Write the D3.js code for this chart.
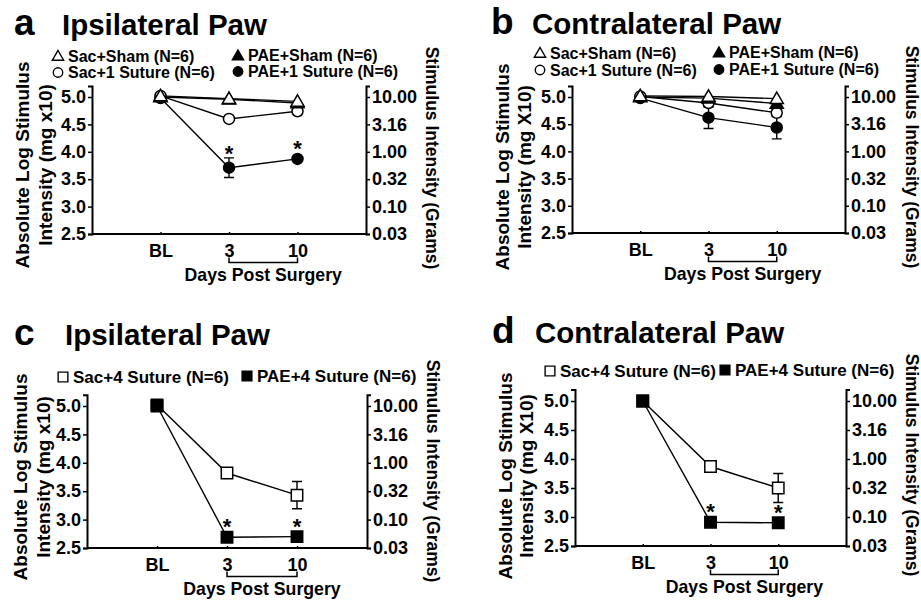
<!DOCTYPE html>
<html>
<head>
<meta charset="utf-8">
<script src="https://cdn.jsdelivr.net/npm/d3@7"></script>
<style>
  body { margin: 0; background: #fff; }
  svg { font-family: "Liberation Sans", Arial, sans-serif; font-weight: bold; }
</style>
</head>
<body>
<div id="chart"></div>
<script>
// categories and tick labels
const days = ['BL', '3', '10'];
const leftTicks = [2.5, 3.0, 3.5, 4.0, 4.5, 5.0];
const rightTickLabels = ['0.03', '0.10', '0.32', '1.00', '3.16', '10.00'];

// panel a - ipsilateral, sham / 1 suture
const aSacSham = [5.02, 4.97, 4.92];
const aPaeSham = [5.00, 4.96, 4.89];
const aSac1 = [5.02, 4.60, 4.74];
const aPae1 = [4.98, 3.71, 3.87];
const aPae1Err = [0.02, 0.18, 0.03];

// panel b - contralateral, sham / 1 suture
const bSacSham = [5.02, 5.01, 4.97];
const bPaeSham = [5.00, 4.98, 4.88];
const bSac1 = [5.01, 4.89, 4.71];
const bSac1Err = [0.02, 0.07, 0.07];
const bPae1 = [4.98, 4.62, 4.44];
const bPae1Err = [0.02, 0.20, 0.21];

// panel c - ipsilateral, 4 suture
const cSac4 = [5.02, 3.82, 3.43];
const cSac4Err = [0.02, 0.04, 0.24];
const cPae4 = [5.00, 2.69, 2.70];
const cPae4Err = [0.02, 0.03, 0.03];

// panel d - contralateral, 4 suture
const dSac4 = [5.00, 3.87, 3.50];
const dSac4Err = [0.02, 0.04, 0.25];
const dPae4 = [5.00, 2.91, 2.90];
const dPae4Err = [0.02, 0.04, 0.04];

const W = 921, H = 600;
const svg = d3.select('#chart').append('svg')
  .attr('width', W).attr('height', H);

const triangle = d3.symbol().type(d3.symbolTriangle);
const circle = d3.symbol().type(d3.symbolCircle);
const square = d3.symbol().type(d3.symbolSquare);

const shapes = {
  triangle: { gen: triangle, size: 75, legendSize: 55 },
  circle: { gen: circle, size: 95, legendSize: 70 },
  square: { gen: square, size: 130, legendSize: 95 }
};

const panels = [
  {
    letter: 'a', title: 'Ipsilateral Paw', letterX: 14, titleX: 62, titleY: 35,
    x0: 92, x1: 366, y5: 97, y25: 234, unit: 'Intensity (mg x10)',
    leftX: [22, 45], leftY: 165, rightX: 432, rightY: 158,
    legend: [
      { label: 'Sac+Sham (N=6)', shape: 'triangle', filled: false, x: 58, y: 56 },
      { label: 'PAE+Sham (N=6)', shape: 'triangle', filled: true, x: 238, y: 55.5 },
      { label: 'Sac+1 Suture (N=6)', shape: 'circle', filled: false, x: 58, y: 72.5 },
      { label: 'PAE+1 Suture (N=6)', shape: 'circle', filled: true, x: 238, y: 71.5 }
    ],
    series: [
      { values: aPae1, err: aPae1Err, shape: 'circle', filled: true, stars: [1, 2] },
      { values: aSac1, shape: 'circle', filled: false },
      { values: aPaeSham, shape: 'triangle', filled: true },
      { values: aSacSham, shape: 'triangle', filled: false }
    ]
  },
  {
    letter: 'b', title: 'Contralateral Paw', letterX: 491, titleX: 532, titleY: 34,
    x0: 572, x1: 845, y5: 97, y25: 233, unit: 'Intensity (mg X10)',
    leftX: [502, 524], leftY: 167, rightX: 912, rightY: 157,
    legend: [
      { label: 'Sac+Sham (N=6)', shape: 'triangle', filled: false, x: 540, y: 53 },
      { label: 'PAE+Sham (N=6)', shape: 'triangle', filled: true, x: 719, y: 52.5 },
      { label: 'Sac+1 Suture (N=6)', shape: 'circle', filled: false, x: 540, y: 70 },
      { label: 'PAE+1 Suture (N=6)', shape: 'circle', filled: true, x: 719, y: 69.5 }
    ],
    series: [
      { values: bPae1, err: bPae1Err, shape: 'circle', filled: true },
      { values: bSac1, err: bSac1Err, shape: 'circle', filled: false },
      { values: bPaeSham, shape: 'triangle', filled: true },
      { values: bSacSham, shape: 'triangle', filled: false }
    ]
  },
  {
    letter: 'c', title: 'Ipsilateral Paw', letterX: 14, titleX: 65, titleY: 345,
    x0: 87, x1: 367, y5: 406, y25: 548, unit: 'Intensity (mg x10)',
    leftX: [20, 43], leftY: 477, rightX: 433, rightY: 471,
    legend: [
      { label: 'Sac+4 Suture (N=6)', shape: 'square', filled: false, x: 63, y: 377 },
      { label: 'PAE+4 Suture (N=6)', shape: 'square', filled: true, x: 247, y: 376 }
    ],
    series: [
      { values: cSac4, err: cSac4Err, shape: 'square', filled: false },
      { values: cPae4, err: cPae4Err, shape: 'square', filled: true, stars: [1, 2] }
    ]
  },
  {
    letter: 'd', title: 'Contralateral Paw', letterX: 492, titleX: 535, titleY: 343,
    x0: 575, x1: 846, y5: 401, y25: 546, unit: 'Intensity (mg X10)',
    leftX: [505, 526], leftY: 476, rightX: 912, rightY: 465,
    legend: [
      { label: 'Sac+4 Suture (N=6)', shape: 'square', filled: false, x: 550, y: 371 },
      { label: 'PAE+4 Suture (N=6)', shape: 'square', filled: true, x: 725, y: 370 }
    ],
    series: [
      { values: dSac4, err: dSac4Err, shape: 'square', filled: false },
      { values: dPae4, err: dPae4Err, shape: 'square', filled: true, stars: [1, 2] }
    ]
  }
];

panels.forEach(drawPanel);

function drawPanel(p) {
  const g = svg.append('g');

  // y runs a little past 5.0 at the top
  const pxPerUnit = (p.y25 - p.y5) / 2.5;
  const y = d3.scaleLinear()
    .domain([2.5, 5.2])
    .range([p.y25, p.y5 - 0.2 * pxPerUnit]);
  const x = d3.scalePoint().domain(days).range([p.x0, p.x1]).padding(1);

  // titles
  g.append('text').attr('x', p.letterX).attr('y', p.titleY)
    .attr('font-size', 37).text(p.letter);
  g.append('text').attr('x', p.titleX).attr('y', p.titleY)
    .attr('font-size', 29.5).text(p.title);

  // legend
  const legendFont = p.legend.length > 2 ? 16 : 17;
  p.legend.forEach(l => {
    const s = shapes[l.shape];
    g.append('path')
      .attr('d', s.gen.size(s.legendSize)())
      .attr('transform', `translate(${l.x},${l.y + (l.shape === 'triangle' ? 1 : 0)})`)
      .attr('fill', l.filled ? '#000' : '#fff')
      .attr('stroke', '#000').attr('stroke-width', 1.4);
    g.append('text').attr('x', l.x + 10).attr('y', l.y)
      .attr('dy', '0.36em').attr('font-size', legendFont).text(l.label);
  });

  // axes
  const left = g.append('g').attr('transform', `translate(${p.x0},0)`)
    .call(d3.axisLeft(y).tickValues(leftTicks).tickSize(4).tickPadding(2)
      .tickFormat(d3.format('.1f')));
  const right = g.append('g').attr('transform', `translate(${p.x1},0)`)
    .call(d3.axisRight(y).tickValues(leftTicks).tickSize(4).tickPadding(2)
      .tickFormat((d, i) => rightTickLabels[i]));
  const bottom = g.append('g').attr('transform', `translate(0,${p.y25})`)
    .call(d3.axisBottom(x).tickSizeInner(-2).tickSizeOuter(0).tickPadding(10));
  bottom.select('.domain').attr('d', `M${p.x0},0H${p.x1}`);

  [left, right, bottom].forEach(ax => {
    ax.selectAll('text').attr('font-size', 18).attr('font-family', 'Liberation Sans, Arial')
      .attr('font-weight', 'bold').attr('fill', '#000');
    ax.select('.domain').attr('stroke-width', 2);
    ax.selectAll('.tick line').attr('stroke-width', 1.5);
  });

  // bracket and x title
  const bx0 = x('3'), bx1 = x('10'), by = p.y25 + 28.5;
  g.append('path')
    .attr('d', `M${bx0},${by - 5}V${by}H${bx1}V${by - 5}`)
    .attr('fill', 'none').attr('stroke', '#000').attr('stroke-width', 1.5);
  g.append('text').attr('x', (bx0 + bx1) / 2).attr('y', p.y25 + 46.5)
    .attr('text-anchor', 'middle').attr('font-size', 17.7).text('Days Post Surgery');

  // y titles
  ['Absolute Log Stimulus', p.unit].forEach((t, i) => {
    g.append('text')
      .attr('transform', `translate(${p.leftX[i]},${p.leftY}) rotate(-90)`)
      .attr('text-anchor', 'middle').attr('dy', '0.36em')
      .attr('font-size', 19).text(t);
  });
  g.append('text')
    .attr('transform', `translate(${p.rightX},${p.rightY}) rotate(90)`)
    .attr('text-anchor', 'middle').attr('dy', '0.36em')
    .attr('font-size', 17.5).text('Stimulus Intensity (Grams)');

  const line = d3.line().x((d, i) => x(days[i])).y(d => y(d));

  // lines first, then error bars, then markers
  p.series.forEach(s => {
    g.append('path').datum(s.values).attr('d', line)
      .attr('fill', 'none').attr('stroke', '#000').attr('stroke-width', 1.4);
  });

  p.series.forEach(s => {
    if (!s.err) return;
    s.values.forEach((v, i) => {
      const e = s.err[i];
      const cx = x(days[i]), yt = y(v + e), yb = y(v - e);
      g.append('path')
        .attr('d', `M${cx},${yt}V${yb}M${cx - 5},${yt}H${cx + 5}M${cx - 5},${yb}H${cx + 5}`)
        .attr('fill', 'none').attr('stroke', '#000').attr('stroke-width', 1.4);
    });
  });

  p.series.forEach(s => {
    const sh = shapes[s.shape];
    s.values.forEach((v, i) => {
      g.append('path')
        .attr('d', sh.gen.size(sh.size)())
        .attr('transform', `translate(${x(days[i])},${y(v) + (s.shape === 'triangle' ? 1 : 0)})`)
        .attr('fill', s.filled ? '#000' : '#fff')
        .attr('stroke', '#000').attr('stroke-width', 1.5);
    });
    (s.stars || []).forEach(i => {
      const v = s.values[i], e = s.err ? s.err[i] : 0;
      const top = Math.min(y(v + e), y(v) - 6);
      g.append('text').attr('x', x(days[i])).attr('y', top + 3)
        .attr('text-anchor', 'middle').attr('font-size', 22).text('*');
    });
  });
}
</script>
</body>
</html>
